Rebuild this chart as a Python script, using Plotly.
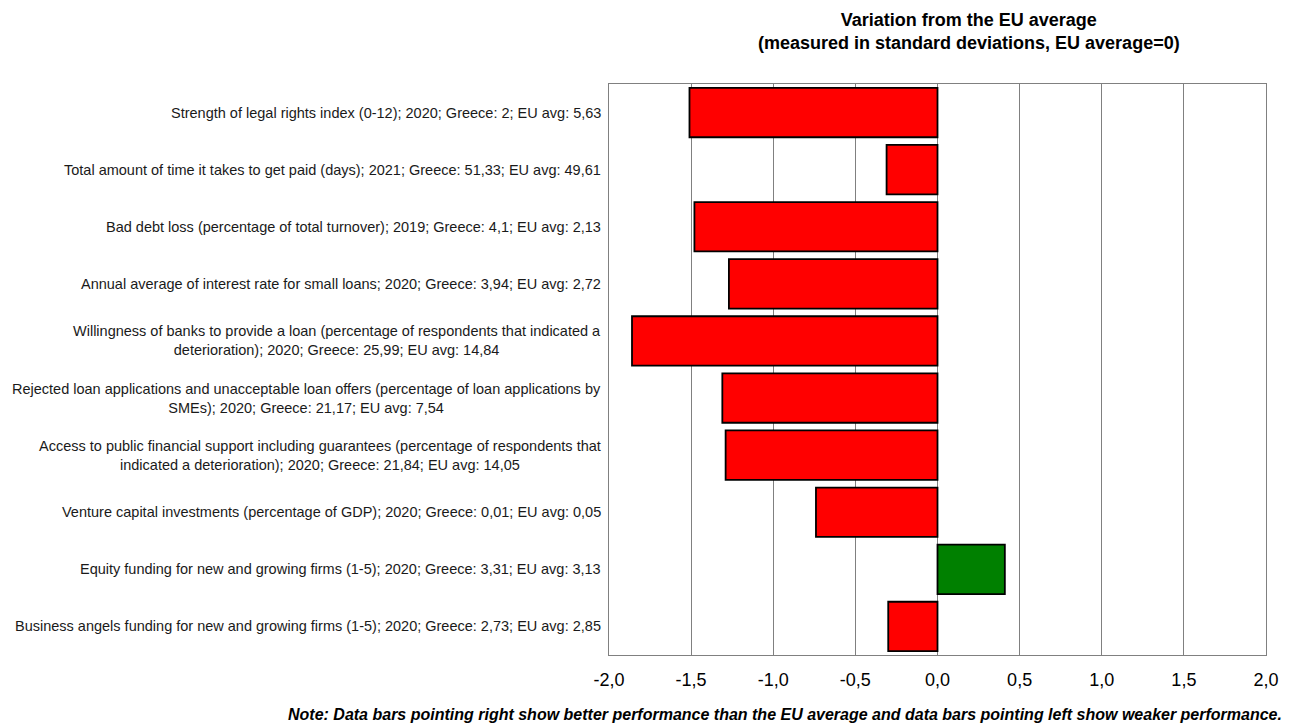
import plotly.graph_objects as go

categories = [
    "Strength of legal rights index (0-12); 2020; Greece: 2; EU avg: 5,63",
    "Total amount of time it takes to get paid (days); 2021; Greece: 51,33; EU avg: 49,61",
    "Bad debt loss (percentage of total turnover); 2019; Greece: 4,1; EU avg: 2,13",
    "Annual average of interest rate for small loans; 2020; Greece: 3,94; EU avg: 2,72",
    "Willingness of banks to provide a loan (percentage of respondents that indicated a<br>deterioration); 2020; Greece: 25,99; EU avg: 14,84",
    "Rejected loan applications and unacceptable loan offers (percentage of loan applications by<br>SMEs); 2020; Greece: 21,17; EU avg: 7,54",
    "Access to public financial support including guarantees (percentage of respondents that<br>indicated a deterioration); 2020; Greece: 21,84; EU avg: 14,05",
    "Venture capital investments (percentage of GDP); 2020; Greece: 0,01; EU avg: 0,05",
    "Equity funding for new and growing firms (1-5); 2020; Greece: 3,31; EU avg: 3,13",
    "Business angels funding for new and growing firms (1-5); 2020; Greece: 2,73; EU avg: 2,85",
]
values = [-1.51, -0.31, -1.48, -1.27, -1.86, -1.31, -1.29, -0.74, 0.41, -0.30]
x_ticks = [-2.0, -1.5, -1.0, -0.5, 0.0, 0.5, 1.0, 1.5, 2.0]
x_ticktext = [f"{v:.1f}".replace(".", ",") for v in x_ticks]

colors = ["#008000" if v > 0 else "#FF0000" for v in values]
ids = list(range(len(categories)))

FONT = "Liberation Sans, Arial, sans-serif"

fig = go.Figure()
fig.add_trace(go.Bar(
    x=values, y=ids, orientation="h",
    marker=dict(color=colors, line=dict(color="black", width=1.8)),
    hoverinfo="x",
))

for i, c in zip(ids, categories):
    fig.add_annotation(
        x=0, xref="paper", y=i, yref="y", text=c, showarrow=False,
        xanchor="right", yanchor="middle", align="center", xshift=-6,
        font=dict(family=FONT, size=14.5, color="#1a1a1a"),
    )

fig.add_annotation(
    x=(970 - 609) / 659, xref="paper", y=1, yref="paper", yshift=53,
    text="<b>Variation from the EU average<br>(measured in standard deviations, EU average=0)</b>",
    showarrow=False, xanchor="center", yanchor="middle", align="center",
    font=dict(family=FONT, size=18, color="black"),
)
fig.add_annotation(
    x=1, xref="paper", y=0, yref="paper", yshift=-59, xshift=18,
    text="<b><i>Note: Data bars pointing right show better performance than the EU average and data bars pointing left show weaker performance.</i></b>",
    showarrow=False, xanchor="right", yanchor="middle",
    font=dict(family=FONT, size=16, color="black"),
)

fig.update_layout(
    width=1283, height=717,
    margin=dict(l=601, r=23, t=76, b=70),
    paper_bgcolor="white", plot_bgcolor="white",
    bargap=0.135,
    showlegend=False,
    xaxis=dict(
        range=[-2, 2], tickvals=x_ticks, ticktext=x_ticktext,
        showgrid=True, gridcolor="#808080", gridwidth=1,
        zeroline=False, showline=True, linecolor="#808080", linewidth=1, mirror=True,
        ticks="", ticklabelstandoff=8, tickfont=dict(family=FONT, size=18, color="black"),
        fixedrange=True,
    ),
    yaxis=dict(
        range=[len(categories) - 0.5, -0.5], showticklabels=False, showgrid=False,
        zeroline=False, showline=True, linecolor="#808080", linewidth=1, mirror=True,
        ticks="", fixedrange=True,
    ),
)

fig.write_html("out.html")
